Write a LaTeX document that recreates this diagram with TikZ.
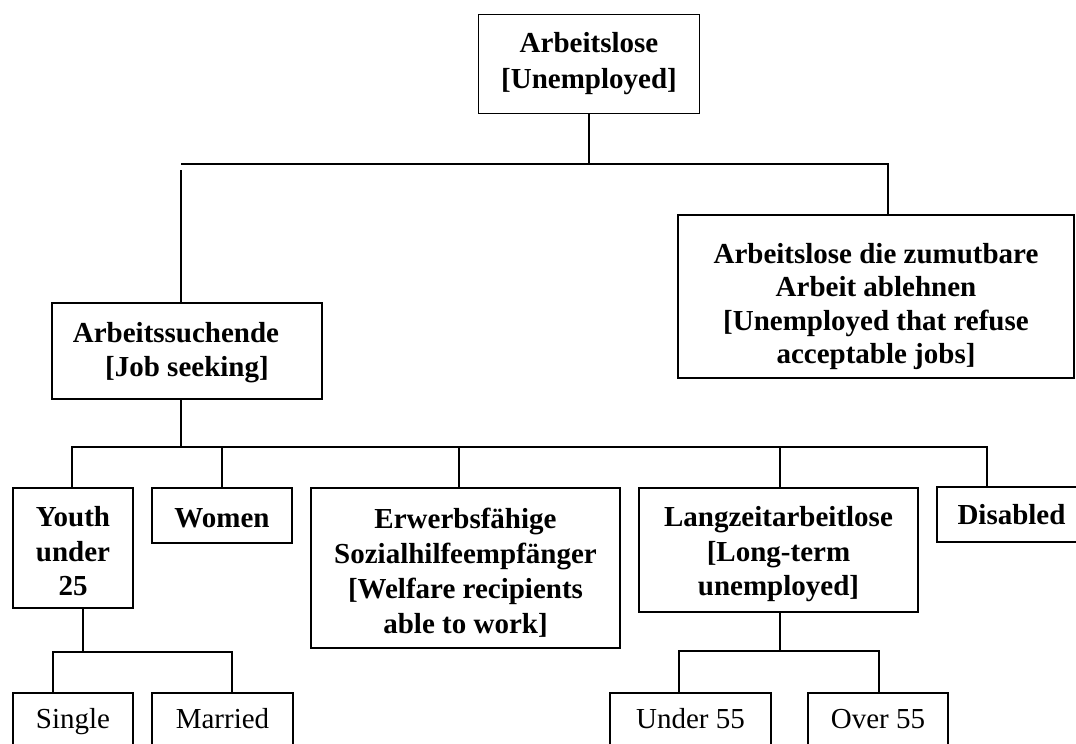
\documentclass[tikz,border=0pt]{standalone}
\usepackage{fontspec}
\setmainfont{Liberation Serif}
\newcommand{\lift}[1]{\rule{0pt}{#1pt}}
\begin{document}
\begin{tikzpicture}[x=1pt,y=-1pt,
  box/.style={draw, line width=1.6pt, inner sep=0pt, align=center, font=\fontsize{29}{34}\selectfont\bfseries},
  leaf/.style={draw, line width=1.6pt, inner sep=0pt, align=center, font=\fontsize{29}{34}\selectfont, text height=20pt, text depth=7pt, minimum height=57pt},
  link/.style={line width=1.6pt, line join=miter}]
\useasboundingbox (0,0) rectangle (1076,744);
\clip (0,0) rectangle (1076,744);

% nodes
\node[box, font=\fontsize{29}{36}\selectfont\bfseries, minimum width=221pt, minimum height=99pt] (top) at (589,64) {Arbeitslose\\{[}Unemployed]};
\node[box, minimum width=270pt, minimum height=96pt] (js) at (187,351) {\lift{24}Arbeitssuchende\hspace*{22pt}\\{[}Job seeking]};
\node[box, font=\fontsize{29}{33.5}\selectfont\bfseries, minimum width=396pt, minimum height=163pt] (ref) at (876,296.5) {\lift{40}Arbeitslose die zumutbare\\Arbeit ablehnen\\{[}Unemployed that refuse\\acceptable jobs]};
\node[box, font=\fontsize{29}{34.5}\selectfont\bfseries, minimum width=120pt, minimum height=120pt] (youth) at (73,548) {\lift{27}Youth\\under\\25};
\node[box, minimum width=140pt, minimum height=55pt] (women) at (222,515.5) {\lift{25}Women};
\node[box, font=\fontsize{29}{35}\selectfont\bfseries, minimum width=309pt, minimum height=160pt] (erw) at (465.5,568) {\lift{30}Erwerbsfähige\\Sozialhilfeempfänger\\{[}Welfare recipients\\able to work]};
\node[box, font=\fontsize{29}{34.5}\selectfont\bfseries, minimum width=279pt, minimum height=124pt] (lang) at (778.5,550) {\lift{29}Langzeitarbeitlose\\{[}Long-term\\unemployed]};
\node[box, minimum width=149pt, minimum height=55pt] (dis) at (1011.5,514.5) {Disabled};
\node[leaf, minimum width=120pt] (single) at (73,721.5) {Single};
\node[leaf, minimum width=141pt] (married) at (222.5,721.5) {Married};
\node[leaf, minimum width=161pt] (u55) at (690.5,721.5) {Under 55};
\node[leaf, minimum width=140pt] (o55) at (878,721.5) {Over 55};

% level 1 connectors
\coordinate (b1L) at (181,164);
\coordinate (b1R) at (888,164);
\coordinate (b1gap) at (181,170);
\draw[link] (top.south) -- (top.south |- b1L);
\draw[link] (b1L) -- (b1R) -- (ref.north -| b1R);
\draw[link] (b1gap) -- (js.north -| b1gap);

% level 2 connectors
\coordinate (b2L) at (72,447);
\coordinate (b2R) at (987,447);
\coordinate (b2e) at (459,447);
\coordinate (b2l) at (780,447);
\draw[link] (js.south -| b1L) -- (b1L |- b2L);
\draw[link] (youth.north -| b2L) -- (b2L) -- (b2R) -- (dis.north -| b2R);
\draw[link] (women.north |- b2L) -- (women.north);
\draw[link] (b2e) -- (erw.north -| b2e);
\draw[link] (b2l) -- (lang.north -| b2l);

% level 3 left
\coordinate (y3) at (83,652);
\coordinate (s3) at (53,652);
\coordinate (m3) at (232,652);
\draw[link] (youth.south -| y3) -- (y3);
\draw[link] (single.north -| s3) -- (s3) -- (m3) -- (married.north -| m3);

% level 3 right
\coordinate (l3) at (780,651);
\coordinate (u3) at (679,651);
\coordinate (o3) at (879,651);
\draw[link] (lang.south -| l3) -- (l3);
\draw[link] (u55.north -| u3) -- (u3) -- (o3) -- (o55.north -| o3);
\end{tikzpicture}
\end{document}
